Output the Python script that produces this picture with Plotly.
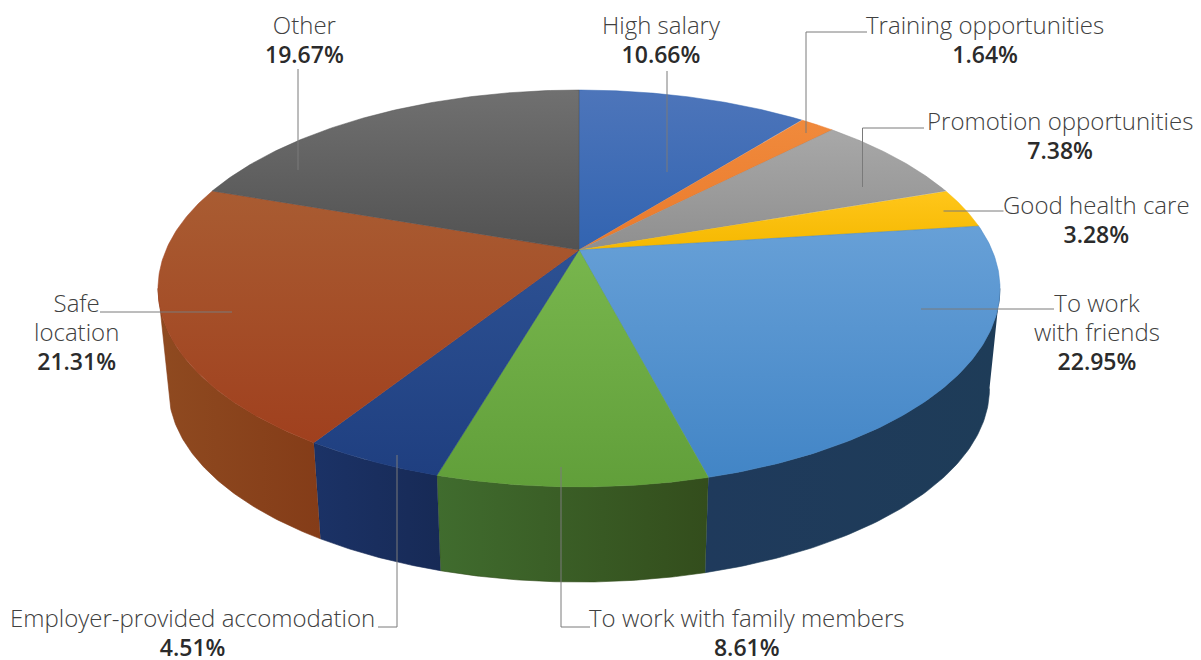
import numpy as np
import plotly.graph_objects as go

# ---- data ----
categories = ["High salary", "Training opportunities", "Promotion opportunities", "Good health care",
              "To work with friends", "To work with family members", "Employer-provided accomodation",
              "Safe location", "Other"]
values = [10.66, 1.64, 7.38, 3.28, 22.95, 8.61, 4.51, 21.31, 19.67]

# ---- styles ----
top_colors = [("#4d75ba", "#3264b1"), ("#f08a3c", "#ea7a2c"), ("#a8a8a8", "#8f8f8f"), ("#ffc61a", "#f5b800"),
              ("#67a0d7", "#4285c6"), ("#78b64d", "#619f3a"), ("#2d5193", "#1f3f80"),
              ("#a95c32", "#a0401e"), ("#707070", "#525252")]
side_colors = [("#2f5597", "#2f5597"), ("#ed7d31", "#ed7d31"), ("#8c8c8c", "#8c8c8c"), ("#ffc000", "#ffc000"),
               ("#1f3a5c", "#1e3c58"), ("#406c2e", "#334d1c"), ("#1b3266", "#172a56"),
               ("#8f4a20", "#843c18"), ("#444444", "#444444")]
# label blocks: (lines, centre x, centre y of the whole block)
label_layout = [("High salary", 661, 38.5), ("Training opportunities", 985, 38.5),
                ("Promotion opportunities", 1060, 135), ("Good health care", 1096, 218.5),
                ("To work<br>with friends", 1097, 331),
                ("To work with family members", 747, 632),
                ("Employer-provided accomodation", 192, 632),
                ("Safe<br>location", 76, 331), ("Other", 304, 38.5)]
leaders = [[(667, 71), (667, 172)],
           [(806, 133), (806, 32), (867, 32)],
           [(862.5, 187), (862.5, 128), (924, 128)],
           [(943.5, 211), (1003.5, 211)],
           [(921, 309), (1054, 309)],
           [(561, 467), (561, 627), (590, 627)],
           [(397, 455), (397, 627), (378, 627)],
           [(232, 312), (100, 312)],
           [(298, 69), (298, 170)]]

CX, APEX_Y = 579, 250
R, S, K = 413, 191, 0.194
BOTTOM_SCALE, BOTTOM_APEX = 0.975, 351


def project(frac, bottom=False):
    t = 2 * np.pi * np.asarray(frac)
    u, v = np.sin(t), -np.cos(t)
    d = 1 - K * v
    s = BOTTOM_SCALE if bottom else 1.0
    y0 = BOTTOM_APEX if bottom else APEX_Y
    return CX + s * R * u / d, y0 + s * S * v / d


fig = go.Figure()
edges = np.concatenate([[0], np.cumsum(values)]) / sum(values)

# the wall runs between the disc's left and right extremes
grid = np.linspace(0, 1, 4001)
gx = project(grid)[0]
f_right, f_left = grid[np.argmax(gx)], grid[np.argmin(gx)]

for i in range(len(values)):
    a, b = max(edges[i], f_right), min(edges[i + 1], f_left)
    if b <= a:
        continue
    f = np.linspace(a, b, 80)
    xt, yt = project(f)
    xb, yb = project(f, bottom=True)
    c0, c1 = side_colors[i]
    fig.add_trace(go.Scatter(
        x=np.concatenate([xt, xb[::-1]]), y=np.concatenate([yt, yb[::-1]]),
        fill="toself", mode="lines", line=dict(width=0.6, color=c1),
        fillgradient=dict(type="horizontal", colorscale=[[0, c0], [1, c1]]),
        hoverinfo="skip", showlegend=False))

# top faces
for i in range(len(values)):
    f = np.linspace(edges[i], edges[i + 1], 120)
    xt, yt = project(f)
    c0, c1 = top_colors[i]
    fig.add_trace(go.Scatter(
        x=np.concatenate([[CX], xt, [CX]]), y=np.concatenate([[APEX_Y], yt, [APEX_Y]]),
        fill="toself", mode="lines", line=dict(width=0.5, color=c1),
        fillgradient=dict(type="vertical", colorscale=[[0, c1], [1, c0]]),
        hoverinfo="skip", showlegend=False, name=categories[i]))

# leader lines
for pts in leaders:
    fig.add_trace(go.Scatter(x=[p[0] for p in pts], y=[p[1] for p in pts], mode="lines",
                             line=dict(color="#7a7a7a", width=1), hoverinfo="skip", showlegend=False))

# labels: base font size sets the 29px line spacing, spans set the glyph size
for (text, x, y), val in zip(label_layout, values):
    body = "<br>".join(f"<span style='font-size:24px'>{t}</span>" for t in text.split("<br>"))
    pct = f"<span style='font-size:23px;font-weight:600;fill:#2b2b2b'>{val:.2f}%</span>"
    fig.add_annotation(x=x, y=y, xref="x", yref="y", showarrow=False, xanchor="center", yanchor="middle",
                       align="center", text=f"{body}<br>{pct}",
                       font=dict(family="Open Sans", size=22.3, color="#404040", weight=300))

fig.update_xaxes(range=[0, 1201], visible=False, fixedrange=True)
fig.update_yaxes(range=[660, 0], visible=False, fixedrange=True)
fig.update_layout(width=1201, height=660, margin=dict(l=0, r=0, t=0, b=0),
                  paper_bgcolor="white", plot_bgcolor="white", showlegend=False)
fig.write_html("out.html", config={"displayModeBar": False},
               post_script="document.body.style.margin='0';document.documentElement.style.overflow='hidden';")
